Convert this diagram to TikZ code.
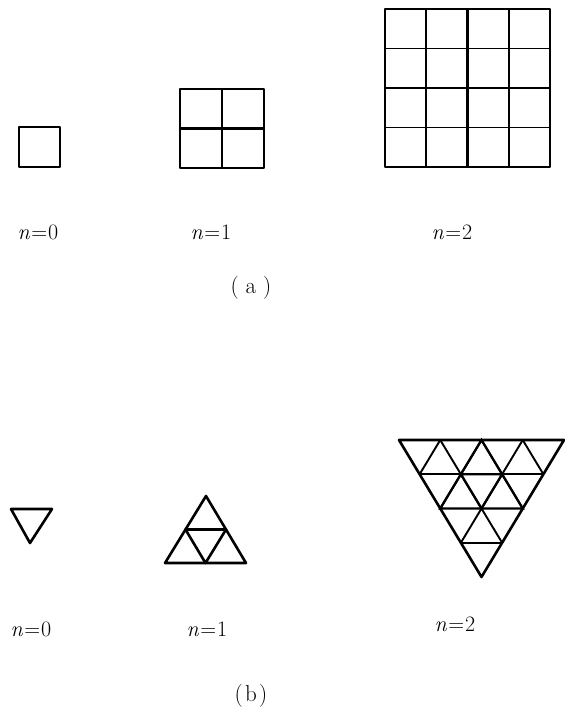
\documentclass[tikz,border=0pt]{standalone}
\usetikzlibrary{calc}
\begin{document}
\begin{tikzpicture}[x=1pt,y=-1pt,
  frame/.style={line width=2.6pt,line join=round,line cap=round},
  thin/.style={line width=1.9pt,line cap=round},
  mid/.style={line width=2.3pt,line cap=round},
  lbl/.style={font=\fontsize{22}{26}\selectfont,inner sep=0pt},
  captext/.style={font=\fontsize{23}{27}\selectfont,inner sep=0pt}]
\useasboundingbox (0,0) rectangle (565,716);
% ---------- (a) squares ----------
% n=0
\draw[frame] (19,127) rectangle (60,167);
% n=1
\draw[mid] (222,89) -- (222,168);
\draw[mid] (180,128.5) -- (264,128.5);
\draw[frame] (180,89) rectangle (264,168);
% n=2
\coordinate (s0) at (385,9);
\coordinate (s1) at (550,167);
\foreach \k in {1,3}{
  \draw[thin] ($(385,9)!\k/4!(550,9)$) -- ($(385,167)!\k/4!(550,167)$);
  \draw[thin] ($(385,9)!\k/4!(385,167)$) -- ($(550,9)!\k/4!(550,167)$);
}
\draw[mid] ($(385,9)!0.5!(550,9)$) -- ($(385,167)!0.5!(550,167)$);
\draw[mid] ($(385,9)!0.5!(385,167)$) -- ($(550,9)!0.5!(550,167)$);
\draw[frame] (s0) rectangle (s1);
% labels (a)
\node[lbl] (la0) at (38,232) {\textit{n}\kern1pt=\kern1pt0};
\node[lbl] (la1) at (211,232) {\textit{n}\kern1pt=\kern1pt1};
\node[lbl] (la2) at (452,232) {\textit{n}\kern1pt=\kern1pt2};
\node[captext] (capa) at (251,288) {(\hspace{0.3em}a\hspace{0.3em})};
% ---------- (b) triangles ----------
% n=0
\draw[frame] (11,509) -- (52,509) -- (30,543) -- cycle;
% n=1
\coordinate (P) at (206,496);
\coordinate (Q) at (165,563);
\coordinate (R) at (246,563);
\draw[frame] (P) -- (Q) -- (R) -- cycle;
\draw[frame] ($(P)!0.5!(Q)$) -- ($(P)!0.5!(R)$) -- ($(Q)!0.5!(R)$) -- cycle;
% n=2
\coordinate (A) at (399,440);
\coordinate (B) at (564,440);
\coordinate (C) at (481.5,577);
\foreach \k in {1,2,3}{
  \draw[thin] ($(A)!\k/4!(C)$) -- ($(B)!\k/4!(C)$);
  \draw[thin] ($(A)!\k/4!(B)$) -- ($(B)!{(4-\k)/4}!(C)$);
  \draw[thin] ($(A)!\k/4!(B)$) -- ($(A)!\k/4!(C)$);
}
% bold inner n=1 pattern
\coordinate (T) at ($(A)!0.5!(B)$);
\coordinate (L) at ($(A)!0.5!(C)$);
\coordinate (M) at ($(B)!0.5!(C)$);
\draw[mid] (T) -- (L) -- (M) -- cycle;
\draw[mid] ($(T)!0.5!(L)$) -- ($(T)!0.5!(M)$) -- ($(L)!0.5!(M)$) -- cycle;
\draw[frame] (A) -- (B) -- (C) -- cycle;
% labels (b)
\node[lbl] (lb0) at (31,629) {\textit{n}\kern1pt=\kern1pt0};
\node[lbl] (lb1) at (207,629) {\textit{n}\kern1pt=\kern1pt1};
\node[lbl] (lb2) at (455,624) {\textit{n}\kern1pt=\kern1pt2};
\node[captext] (capb) at (251,696) {(\hspace{0.1em}b\hspace{0.1em})};
\end{tikzpicture}
\end{document}
